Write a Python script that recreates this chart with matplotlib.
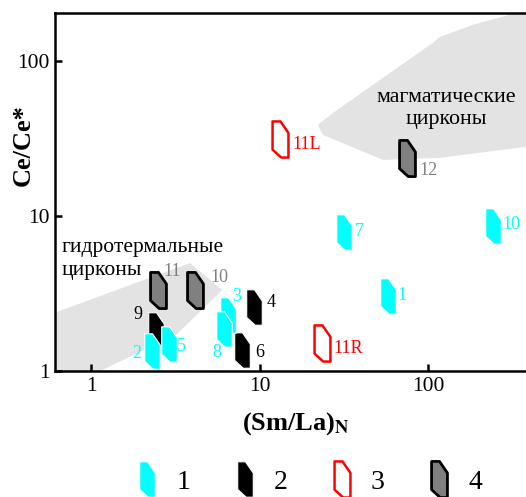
import numpy as np
import matplotlib
matplotlib.use('Agg')
import matplotlib.pyplot as plt
from matplotlib.path import Path
from matplotlib.lines import Line2D

plt.rcParams['font.family'] = ['Liberation Serif', 'DejaVu Serif']
plt.rcParams['mathtext.fontset'] = 'stix'

# data: (Sm/La)_N vs Ce/Ce*
cyan_x = [58, 2.3, 6.5, 2.9, 31.7, 6.15, 243]
cyan_y = [3.05, 1.35, 2.3, 1.49, 7.9, 1.87, 8.6]
cyan_lbl = ['1', '2', '3', '5', '7', '8', '10']

black_x = [9.3, 7.9, 2.43]
black_y = [2.59, 1.37, 1.84]
black_lbl = ['4', '6', '9']

red_x = [13.2, 23.5]
red_y = [31.4, 1.52]
red_lbl = ['11L', '11R']

gray_x = [75, 2.5, 4.14]
gray_y = [23.7, 3.33, 3.33]
gray_lbl = ['12', '11', '10']

# shaded fields
hydro_x = [0.5, 3.87, 6.0, 3.2, 1.13, 0.5]
hydro_y = [2.2, 4.97, 3.33, 1.71, 1.0, 1.0]
magma_x = [500, 185, 118, 107, 27.3, 22.2, 23.8, 54, 118, 500]
magma_y = [230, 171, 143, 131, 46.2, 38.7, 33.3, 23.0, 23.7, 29]

# label offsets (points)
cyan_off = [(7, 0), (-8, -2), (3, 13), (6, -2), (8, 0), (-2, -17), (7, 1)]
black_off = [(9, 3), (9, -2), (-10, 11)]
red_off = [(9, -4), (8, -4)]
gray_off = [(9, -9), (4, 13), (11, 9)]

# marker shape: tall box with cut corners
verts = [(-0.55, 1.25), (0.0, 1.25), (0.55, 0.45), (0.55, -1.25),
         (0.05, -1.25), (-0.55, -0.7), (-0.55, 1.25)]
codes = [Path.MOVETO] + [Path.LINETO] * 5 + [Path.CLOSEPOLY]
mk = Path(verts, codes)

fig = plt.figure(figsize=(5.26, 4.97), dpi=100)
ax = fig.add_axes([0.1046, 0.2535, 0.8954, 0.7205])
ax.set_xscale('log')
ax.set_yscale('log')
ax.set_xlim(0.61, 382)
ax.set_ylim(1, 204)

ax.fill(hydro_x, hydro_y, color='#e3e3e3', lw=0, zorder=0)
ax.fill(magma_x, magma_y, color='#e3e3e3', lw=0, zorder=0)

styles = [
    (black_x, black_y, black_lbl, black_off, dict(mfc='black', mec='white', mew=0.8, ms=25.5), 'black'),
    (cyan_x, cyan_y, cyan_lbl, cyan_off, dict(mfc='#00ffff', mec='white', mew=0.8, ms=25.5), '#00ffff'),
    (red_x, red_y, red_lbl, red_off, dict(mfc='white', mec='red', mew=1.8, ms=26), 'red'),
    (gray_x, gray_y, gray_lbl, gray_off, dict(mfc='#808080', mec='black', mew=2, ms=26), '#808080'),
]
for xs, ys, lbls, offs, st, tc in styles:
    for x, y, l, o in zip(xs, ys, lbls, offs):
        ax.plot([x], [y], marker=mk, ls='none', zorder=3, **st)
        ax.annotate(l, (x, y), xytext=o, textcoords='offset points',
                    ha='left' if o[0] > 0 else 'right', va='center',
                    color=tc, fontsize=13, zorder=4)

# field names
ax.text(128, 57.7, 'магматические', ha='center', va='center', fontsize=15.8)
ax.text(128, 41.6, 'цирконы', ha='center', va='center', fontsize=15.8)
ax.text(0.664, 6.22, 'гидротермальные', ha='left', va='center', fontsize=15.5)
ax.text(0.664, 4.48, 'цирконы', ha='left', va='center', fontsize=15.5)

ax.set_xticks([1, 10, 100])
ax.set_xticklabels(['1', '10', '100'])
ax.set_yticks([1, 10, 100])
ax.set_yticklabels(['1', '10', '100'])
ax.minorticks_off()
ax.tick_params(direction='in', length=5, width=1.8, labelsize=15.5, pad=4)
for s in ['left', 'bottom', 'top']:
    ax.spines[s].set_linewidth(1.8)
ax.spines['right'].set_visible(False)

ax.set_xlabel(r'(Sm/La)$_\mathbf{N}$', fontsize=19, fontweight='bold')
ax.xaxis.set_label_coords(0.512, -0.108)
ax.set_ylabel('Ce/Ce*', fontsize=19, fontweight='bold')
ax.yaxis.set_label_coords(-0.043, 0.63)

handles = [Line2D([], [], marker=mk, ls='none', mfc='#00ffff', mec='white', mew=0.8, ms=25.5),
           Line2D([], [], marker=mk, ls='none', mfc='black', mec='white', mew=0.8, ms=25.5),
           Line2D([], [], marker=mk, ls='none', mfc='white', mec='red', mew=1.8, ms=26),
           Line2D([], [], marker=mk, ls='none', mfc='#808080', mec='black', mew=2, ms=26)]
fig.legend(handles, ['1', '2', '3', '4'], loc='center', bbox_to_anchor=(0.585, 0.03),
           ncol=4, frameon=False, fontsize=20, handlelength=1.0,
           handletextpad=0.55, columnspacing=1.45)

fig.savefig('out.png', dpi=100)
